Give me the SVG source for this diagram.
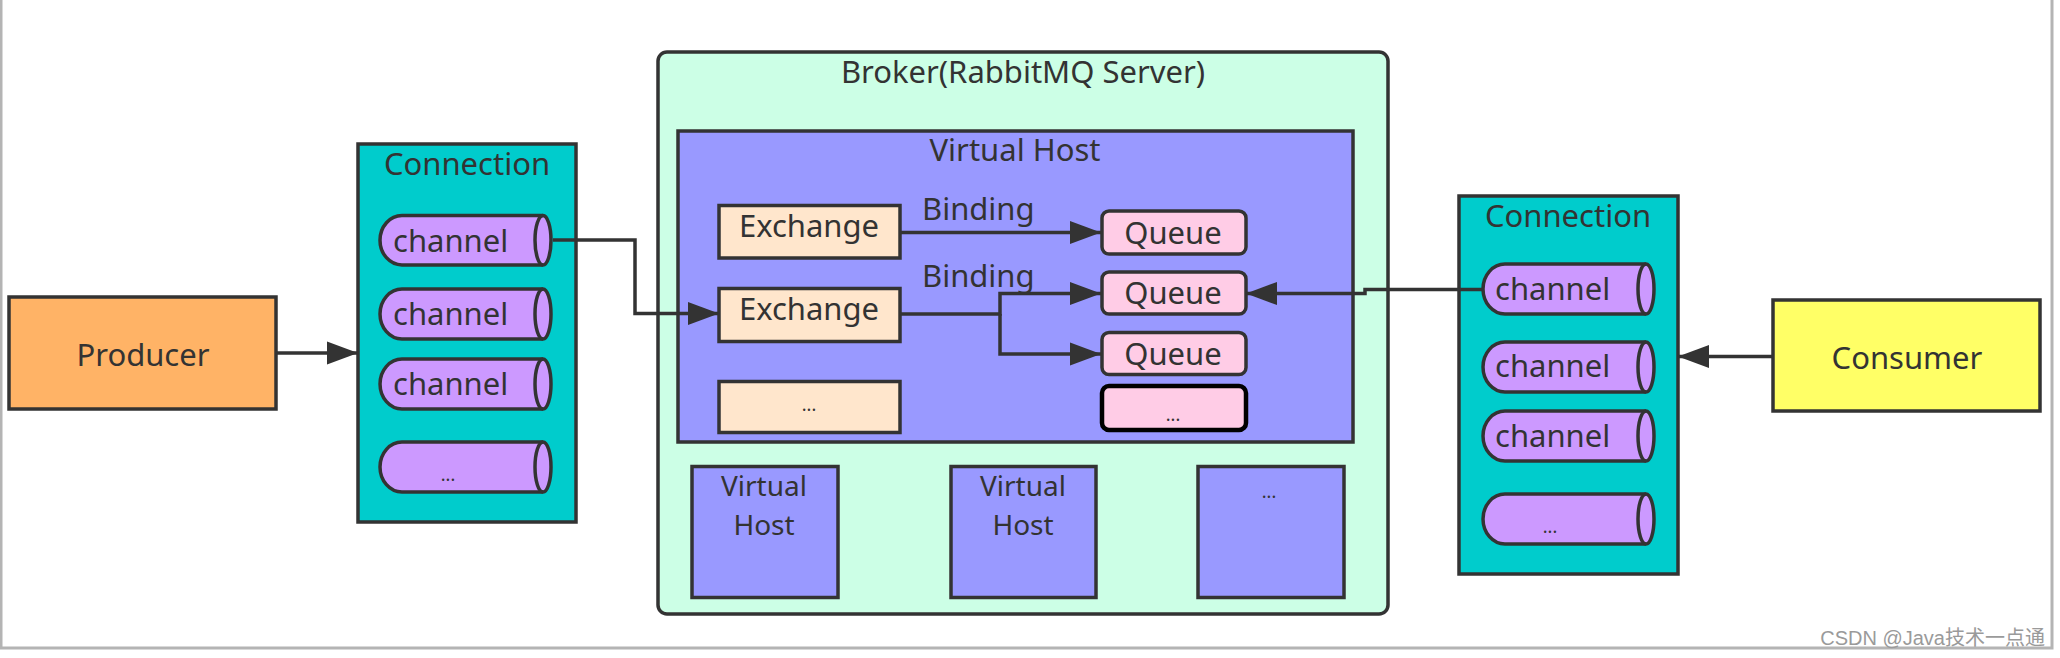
<svg xmlns="http://www.w3.org/2000/svg" width="2060" height="658" viewBox="0 0 2060 658">
<style>
.t{font-family:"Noto Sans","Open Sans","Liberation Sans",sans-serif;font-size:31px;fill:#333;}
.v{font-family:"Noto Sans","Open Sans","Liberation Sans",sans-serif;font-size:28px;fill:#333;text-anchor:middle;}
.c{text-anchor:middle;}
.d{font-family:"Noto Sans","Liberation Sans",sans-serif;font-size:18px;fill:#333;text-anchor:middle;}
.box{stroke:#333;stroke-width:3.5;}
.ln{fill:none;stroke:#333;stroke-width:3.5;}
.cyl{fill:#CC99FF;stroke:#333;stroke-width:3.5;}
.cap{fill:none;stroke:#333;stroke-width:3.5;}
</style>
<defs>
<marker id="ah" markerUnits="userSpaceOnUse" markerWidth="32" markerHeight="24" refX="31" refY="12" orient="auto">
<path d="M0,0.5 L31,12 L0,23.5 Z" fill="#333"/>
</marker>
</defs>
<rect x="0" y="0" width="2060" height="658" fill="#fff"/>
<path d="M1,0 V648 H2052 V0" fill="none" stroke="#b4b4b4" stroke-width="3"/>

<g id="producer">
<rect class="box" x="9" y="297" width="267" height="112" fill="#FFB366"/>
<text class="t c" x="143" y="366">Producer</text>
</g>

<g id="connection1">
<rect class="box" x="358" y="144" width="218" height="378" fill="#00CCCC"/>
<text class="t c" x="467" y="175">Connection</text>
</g>
<g id="channel1a">
<path class="cyl" d="M402,215.5 H543 A8,24.7 0 0 1 543,264.9 H402 A22,24.7 0 0 1 402,215.5 Z"/>
<path class="cap" d="M543,215.5 A8,24.7 0 0 0 543,264.9"/>
<text class="t" x="393" y="252">channel</text>
</g>
<g id="channel1b">
<path class="cyl" d="M402,289 H543 A8,25 0 0 1 543,339 H402 A22,25 0 0 1 402,289 Z"/>
<path class="cap" d="M543,289 A8,25 0 0 0 543,339"/>
<text class="t" x="393" y="325">channel</text>
</g>
<g id="channel1c">
<path class="cyl" d="M402,359 H543 A8,25 0 0 1 543,409 H402 A22,25 0 0 1 402,359 Z"/>
<path class="cap" d="M543,359 A8,25 0 0 0 543,409"/>
<text class="t" x="393" y="395">channel</text>
</g>
<g id="channel1d">
<path class="cyl" d="M402,442 H543 A8,25 0 0 1 543,492 H402 A22,25 0 0 1 402,442 Z"/>
<path class="cap" d="M543,442 A8,25 0 0 0 543,492"/>
<text class="d" x="448" y="481">...</text>
</g>

<g id="broker">
<rect class="box" x="658" y="52" width="730" height="562" rx="9" fill="#CCFFE6"/>
<text class="t c" x="1023" y="83">Broker(RabbitMQ Server)</text>
</g>
<g id="vhost-main">
<rect class="box" x="678" y="131" width="675" height="311" fill="#9999FF"/>
<text class="t c" x="1015" y="161">Virtual Host</text>
</g>
<g id="exchange1">
<rect class="box" x="719" y="205.5" width="181" height="52.5" fill="#FFE6CC"/>
<text class="t c" x="809" y="237">Exchange</text>
</g>
<g id="exchange2">
<rect class="box" x="719" y="288.5" width="181" height="53" fill="#FFE6CC"/>
<text class="t c" x="809" y="320">Exchange</text>
</g>
<g id="exchange3">
<rect class="box" x="719" y="381.5" width="181" height="51" fill="#FFE6CC"/>
<text class="d" x="809" y="411">...</text>
</g>
<g id="queue1">
<rect class="box" x="1102" y="211" width="144" height="43" rx="7" fill="#FFCCE6"/>
<text class="t c" x="1173" y="244">Queue</text>
</g>
<g id="queue2">
<rect class="box" x="1102" y="272" width="144" height="42" rx="7" fill="#FFCCE6"/>
<text class="t c" x="1173" y="304">Queue</text>
</g>
<g id="queue3">
<rect class="box" x="1102" y="332.5" width="144" height="42" rx="7" fill="#FFCCE6"/>
<text class="t c" x="1173" y="365">Queue</text>
</g>
<g id="queue4">
<rect x="1102" y="386" width="144" height="44" rx="7" fill="#FFCCE6" stroke="#000" stroke-width="4.5"/>
<text class="d" x="1173" y="421">...</text>
</g>
<g id="vhost2">
<rect class="box" x="692" y="466.5" width="146" height="131" fill="#9999FF"/>
<text class="v" x="764" y="496">Virtual</text>
<text class="v" x="764" y="535">Host</text>
</g>
<g id="vhost3">
<rect class="box" x="951" y="466.5" width="145" height="131" fill="#9999FF"/>
<text class="v" x="1023" y="496">Virtual</text>
<text class="v" x="1023" y="535">Host</text>
</g>
<g id="vhost4">
<rect class="box" x="1198" y="466.5" width="146" height="131" fill="#9999FF"/>
<text class="d" x="1269" y="498">...</text>
</g>

<g id="connection2">
<rect class="box" x="1459" y="196" width="219" height="378" fill="#00CCCC"/>
<text class="t c" x="1568" y="227">Connection</text>
</g>
<g id="channel2a">
<path class="cyl" d="M1505,264 H1646 A8,25 0 0 1 1646,314 H1505 A22,25 0 0 1 1505,264 Z"/>
<path class="cap" d="M1646,264 A8,25 0 0 0 1646,314"/>
<text class="t" x="1495" y="300">channel</text>
</g>
<g id="channel2b">
<path class="cyl" d="M1505,342 H1646 A8,25 0 0 1 1646,392 H1505 A22,25 0 0 1 1505,342 Z"/>
<path class="cap" d="M1646,342 A8,25 0 0 0 1646,392"/>
<text class="t" x="1495" y="377">channel</text>
</g>
<g id="channel2c">
<path class="cyl" d="M1505,411 H1646 A8,25 0 0 1 1646,461 H1505 A22,25 0 0 1 1505,411 Z"/>
<path class="cap" d="M1646,411 A8,25 0 0 0 1646,461"/>
<text class="t" x="1495" y="447">channel</text>
</g>
<g id="channel2d">
<path class="cyl" d="M1505,494 H1646 A8,25 0 0 1 1646,544 H1505 A22,25 0 0 1 1505,494 Z"/>
<path class="cap" d="M1646,494 A8,25 0 0 0 1646,544"/>
<text class="d" x="1550" y="533">...</text>
</g>

<g id="consumer">
<rect class="box" x="1773" y="300" width="267" height="111" fill="#FFFF66"/>
<text class="t c" x="1907" y="369">Consumer</text>
</g>

<g id="connectors">
<path class="ln" d="M277,353 H358" marker-end="url(#ah)"/>
<path class="ln" d="M553,240 H635 V313.5 H719" marker-end="url(#ah)"/>
<path class="ln" d="M900,232.5 H1101" marker-end="url(#ah)"/>
<path class="ln" d="M900,314 H1000 V293.5 H1101" marker-end="url(#ah)"/>
<path class="ln" d="M1000,314 V354 H1101" marker-end="url(#ah)"/>
<path class="ln" d="M1483,289.5 H1365 V293.5 H1246" marker-end="url(#ah)"/>
<path class="ln" d="M1773,356.5 H1678" marker-end="url(#ah)"/>
<text class="t" x="922" y="220">Binding</text>
<text class="t" x="922" y="287">Binding</text>
</g>

<text x="2045" y="645" text-anchor="end" font-family="Liberation Sans,Noto Sans CJK SC,sans-serif" font-size="20" fill="#9a9a9a">CSDN @Java技术一点通</text>
</svg>
